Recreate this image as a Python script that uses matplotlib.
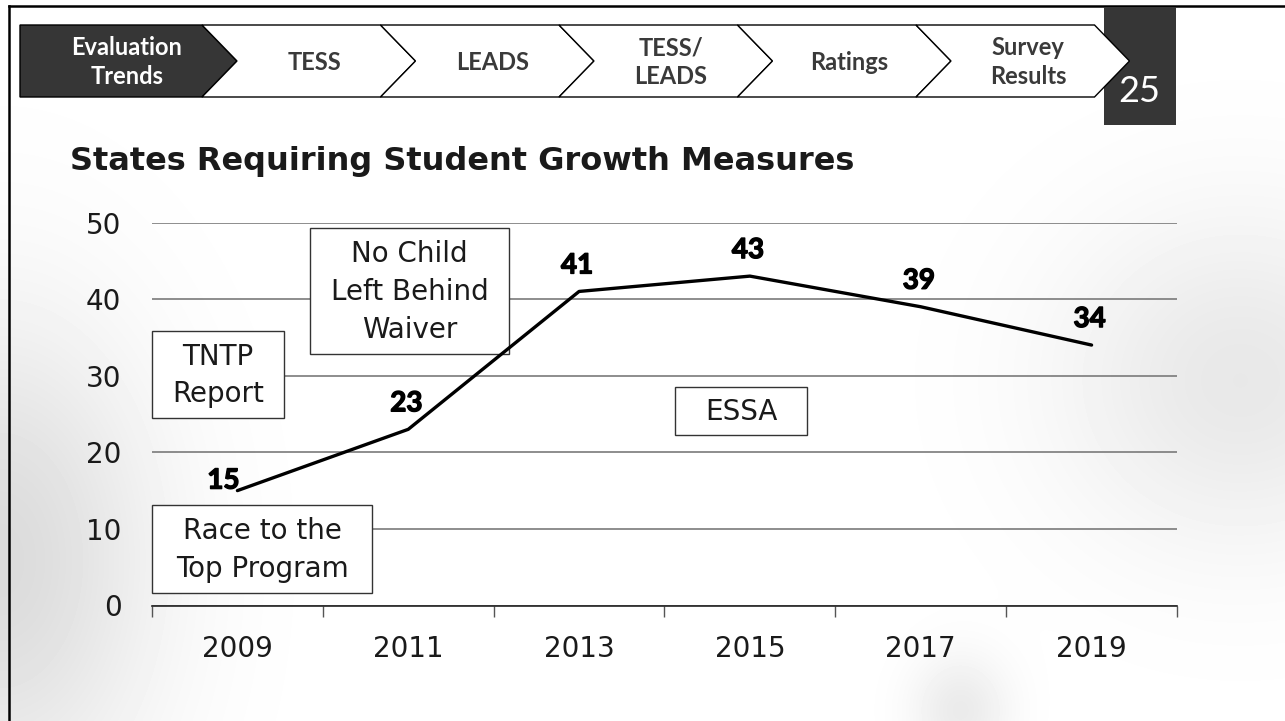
import numpy as np
import matplotlib.pyplot as plt
import matplotlib.patheffects as pe
from matplotlib.patches import Polygon, Rectangle
from matplotlib.transforms import Affine2D

plt.rcParams['font.family'] = ['DejaVu Sans']

years = ['2009', '2011', '2013', '2015', '2017', '2019']
states = [15, 23, 41, 43, 39, 34]
y_ticks = [0, 10, 20, 30, 40, 50]
tabs = ['Evaluation\nTrends', 'TESS', 'LEADS', 'TESS/\nLEADS', 'Ratings', 'Survey\nResults']
page_no = '25'
title = 'States Requiring Student Growth Measures'
notes = ['TNTP\nReport', 'No Child\nLeft Behind\nWaiver', 'Race to the\nTop Program', 'ESSA']

W, H = 1285, 721
fig = plt.figure(figsize=(W / 100, H / 100), dpi=100)
# pixel coordinates, y pointing down
px = Affine2D().scale(1 / W, -1 / H).translate(0, 1) + fig.transFigure

# soft page shadows in the background
bg = fig.add_axes([0, 0, 1, 1], zorder=0)
yy, xx = np.mgrid[0:H, 0:W]
shade = np.zeros((H, W))
for cx, cy, sx, sy, a in [(0, 560, 110, 170, 0.14), (1240, 380, 130, 120, 0.09),
                          (960, 710, 35, 40, 0.08)]:
    shade += a * np.exp(-(((xx - cx) / sx) ** 2 + ((yy - cy) / sy) ** 2) / 2)
bg.imshow(1 - shade, cmap='gray', vmin=0, vmax=1, extent=[0, W, H, 0], aspect='auto')
bg.set_xlim(0, W)
bg.set_ylim(H, 0)
bg.axis('off')

# frame lines (top and left)
bg.plot([9, W], [6, 6], color='black', lw=1.8)
bg.plot([9, 9], [6, H], color='black', lw=1.8)

# chevron header
top, bot, mid = 25, 97, 61
pitch, depth = 178.5, 35
for k, lab in enumerate(tabs):
    if k == 0:
        x0 = 20
        xr = 202
        pts = [(x0, top), (xr, top), (xr + depth, mid), (xr, bot), (x0, bot)]
        fc, tc = '#363636', 'white'
        cx = 127
    else:
        x0 = 202 + (k - 1) * pitch
        xr = x0 + pitch
        pts = [(x0, top), (xr, top), (xr + depth, mid), (xr, bot), (x0, bot), (x0 + depth, mid)]
        fc, tc = 'white', '#3a3a3a'
        cx = x0 + 112
    bg.add_patch(Polygon(pts, closed=True, facecolor=fc, edgecolor='black', lw=1.0, zorder=3))
    bg.text(cx, mid + 1, lab, ha='center', va='center', color=tc, fontsize=17,
            fontweight='bold', family='Lato', linespacing=1.3, zorder=4)

bg.add_patch(Rectangle((1104, 7), 72, 118, facecolor='#363636', edgecolor='none', zorder=2))
bg.text(1139, 91, page_no, ha='center', va='center', color='white', fontsize=26,
        family='Lato', zorder=5)

bg.text(70, 170, title, ha='left', va='baseline', color='#1a1a1a', fontsize=23,
        fontweight='bold')

# chart
ax = fig.add_axes([152 / W, 1 - 605.5 / H, 1025 / W, 383 / H], zorder=1)
ax.patch.set_alpha(0)
x = np.arange(len(years))
ax.set_xlim(-0.5, len(years) - 0.5)
ax.set_ylim(0, 50)
ax.set_yticks(y_ticks)
ax.set_xticks(x)
ax.set_xticklabels(years)
ax.set_xticks(np.arange(len(years) + 1) - 0.5, minor=True)
ax.tick_params(axis='x', which='major', length=0, pad=21, labelsize=20, labelcolor='#1a1a1a')
ax.tick_params(axis='x', which='minor', length=8, width=1, color='#555555', direction='out')
ax.tick_params(axis='y', length=0, pad=22, labelsize=20, labelcolor='#1a1a1a')
for s in ['left', 'right', 'top']:
    ax.spines[s].set_visible(False)
ax.spines['bottom'].set_color('#222222')
ax.spines['bottom'].set_linewidth(1.2)
ax.set_axisbelow(True)
ax.yaxis.grid(True, color='#7a7a7a', lw=1.2)

ax.plot(x, states, color='black', lw=2.4, zorder=5, solid_capstyle='round', clip_on=False)
for i, v in enumerate(states):
    dx, dy = (-14, 10) if i == 0 else (-2, 26)
    t = ax.annotate(str(v), (x[i], v), xytext=(dx, dy), textcoords='offset pixels',
                    ha='center', va='center', fontsize=20, fontweight='bold', color='black',
                    family='Lato', zorder=6)
    t.set_path_effects([pe.withStroke(linewidth=1.0, foreground='black')])

# event boxes (pixel positions)
boxes = [(152, 331, 132, 87), (310, 228, 199, 126), (152, 505, 220, 88), (675, 387, 132, 48)]
for (bx, by, bw, bh), lab in zip(boxes, notes):
    ax.add_patch(Rectangle((bx, by), bw, bh, transform=px, facecolor='white',
                           edgecolor='#333333', lw=1.0, zorder=2, clip_on=False))
    ax.text(bx + bw / 2, by + bh / 2 + 1, lab, transform=px, ha='center', va='center',
            fontsize=20, color='#1a1a1a', linespacing=1.45, zorder=3)

fig.savefig('out.png', dpi=100)
